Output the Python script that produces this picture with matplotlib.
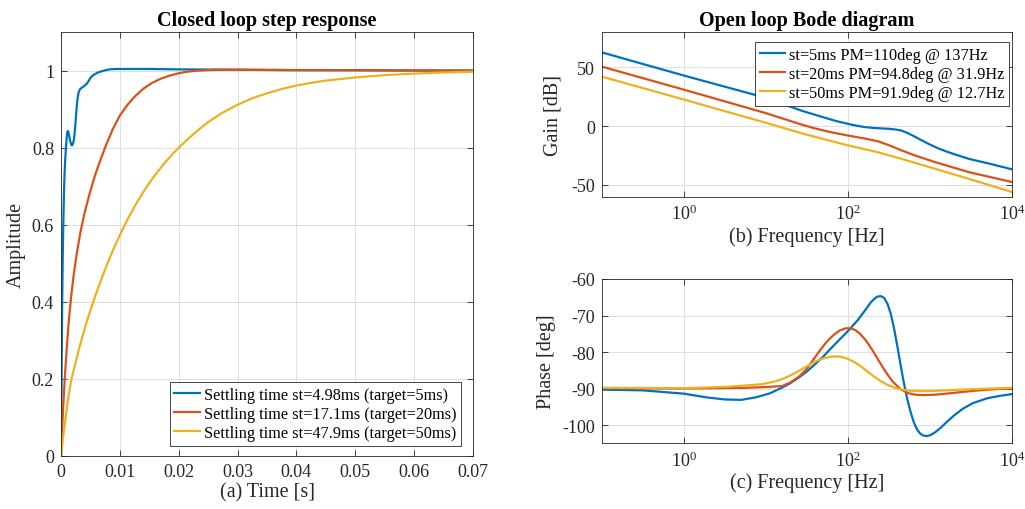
import numpy as np
import matplotlib
matplotlib.use("Agg")
import matplotlib.pyplot as plt
from matplotlib.ticker import FixedLocator, NullLocator, LogFormatterSciNotation

# ---------------- data ----------------
labels_step = ["Settling time st=4.98ms (target=5ms)",
               "Settling time st=17.1ms (target=20ms)",
               "Settling time st=47.9ms (target=50ms)"]
labels_bode = ["st=5ms PM=110deg @ 137Hz",
               "st=20ms PM=94.8deg @ 31.9Hz",
               "st=50ms PM=91.9deg @ 12.7Hz"]

t_blue = [0, 0.0001, 0.0002, 0.0003, 0.0004, 0.0005, 0.0006, 0.0007, 0.0008, 0.0009, 0.001,
          0.00107, 0.00115, 0.0013, 0.0015, 0.0017, 0.0018, 0.0019, 0.002, 0.0021, 0.0022,
          0.0023, 0.0024, 0.0025, 0.0026, 0.0027, 0.0028, 0.003, 0.0032, 0.0035, 0.0038,
          0.0041, 0.0044, 0.0047, 0.005, 0.0054, 0.0058, 0.0063, 0.0069, 0.0076, 0.0083,
          0.0092, 0.01, 0.015, 0.02, 0.03, 0.04, 0.05, 0.06, 0.07]
a_blue = [0, 0.2, 0.4, 0.52, 0.61, 0.68, 0.73, 0.765, 0.79, 0.812, 0.83,
          0.84, 0.843, 0.838, 0.822, 0.809, 0.806, 0.806, 0.809, 0.814, 0.822,
          0.835, 0.852, 0.872, 0.893, 0.911, 0.926, 0.943, 0.951, 0.955, 0.958,
          0.962, 0.966, 0.973, 0.981, 0.987, 0.991, 0.995, 0.998, 1.001, 1.003,
          1.004, 1.004, 1.004, 1.003, 1.002, 1.001, 1.001, 1.0, 1.0]

t_red = [0, 0.0002, 0.0004, 0.0007, 0.001, 0.0013, 0.0017, 0.0022, 0.0027, 0.0033,
         0.004, 0.0048, 0.0057, 0.0067, 0.0077, 0.0088, 0.01, 0.0112, 0.0125, 0.014,
         0.0155, 0.017, 0.0185, 0.02, 0.0215, 0.0231, 0.025, 0.0275, 0.03, 0.04, 0.05, 0.07]
a_red = [0, 0.07, 0.135, 0.215, 0.285, 0.345, 0.41, 0.475, 0.527, 0.58,
         0.63, 0.677, 0.724, 0.768, 0.808, 0.848, 0.883, 0.909, 0.932, 0.953,
         0.968, 0.979, 0.987, 0.993, 0.997, 0.9995, 1.001, 1.002, 1.002, 1.001, 1.0005, 1.0]

t_yel = [0, 0.0003, 0.0006, 0.0009, 0.0012, 0.0015, 0.0018, 0.0024, 0.003, 0.0037,
         0.00435, 0.005, 0.0055, 0.0065, 0.0075, 0.0087, 0.01, 0.0115, 0.013, 0.0145,
         0.016, 0.0175, 0.019, 0.0205, 0.022, 0.0235, 0.025, 0.0275, 0.03, 0.0325,
         0.035, 0.0375, 0.04, 0.0425, 0.045, 0.0475, 0.05, 0.055, 0.06, 0.065, 0.07]
a_yel = [0, 0.04, 0.078, 0.113, 0.146, 0.175, 0.2, 0.237, 0.274, 0.313,
         0.347, 0.377, 0.4, 0.444, 0.484, 0.529, 0.573, 0.619, 0.66, 0.697,
         0.729, 0.758, 0.784, 0.807, 0.828, 0.848, 0.866, 0.891, 0.911, 0.928,
         0.941, 0.952, 0.961, 0.968, 0.974, 0.978, 0.982, 0.988, 0.992, 0.995, 0.997]

# Bode gain: log10(frequency) and dB
lf_gain_blue = [-1, 0, 1, 1.43, 1.7, 1.85, 2.0, 2.1, 2.2, 2.3, 2.4, 2.5, 2.58, 2.65, 2.72,
                2.8, 2.9, 3.0, 3.1, 3.2, 3.3, 3.47, 3.75, 4]
g_blue = [62.7, 43, 24, 13.2, 7.5, 4.4, 1.9, 0.4, -0.8, -1.5, -1.9, -2.3, -2.9, -3.8, -5.7,
          -8.5, -12.2, -15.8, -19.0, -21.6, -24.0, -27.8, -32.4, -36.8]
lf_gain_red = [-1, 0, 1, 1.43, 1.6, 1.8, 2.0, 2.2, 2.37, 2.5, 2.65, 2.8, 3.06, 3.47, 4]
g_red = [50.6, 31, 11, 1.4, -2.0, -5.3, -8.0, -10.5, -13.0, -16.3, -20.6, -24.6, -30.6, -39.1, -47.6]
lf_gain_yel = [-1, 0, 1, 1.43, 1.7, 2.0, 2.2, 2.37, 2.65, 3.06, 3.47, 4]
g_yel = [42.1, 22.6, 2.8, -6.0, -11.0, -16.4, -19.6, -22.3, -27.8, -36.3, -44.8, -56.1]

# Bode phase: log10(frequency) and degrees
lf_ph_blue = [-1, -0.5, 0, 0.27, 0.5, 0.7, 0.88, 1.05, 1.2, 1.3, 1.4, 1.5, 1.6, 1.7, 1.8,
              1.9, 2.01, 2.12, 2.22, 2.27, 2.32, 2.36, 2.4, 2.44, 2.48, 2.52, 2.56, 2.6, 2.64,
              2.68, 2.72, 2.76, 2.8, 2.84, 2.88, 2.92, 2.96, 3.0, 3.06, 3.12, 3.2, 3.3, 3.4,
              3.52, 3.69, 3.85, 4]
ph_blue = [-90.3, -90.5, -91.4, -92.4, -93.0, -93.1, -92.4, -91.3, -89.7, -88.5, -87.0, -85.3, -83.3, -81.2, -78.8,
           -76.5, -74.0, -71.2, -68.2, -66.6, -65.4, -64.8, -64.7, -65.2, -66.8, -69.5, -73.5, -78.4, -83.6,
           -88.5, -92.8, -96.3, -99.2, -101.2, -102.4, -102.9, -103.0, -102.8, -102.0, -100.9, -99.2, -97.2, -95.5,
           -94.0, -92.7, -92.0, -91.5]
lf_ph_red = [-1, 0, 0.75, 1.0, 1.2, 1.3, 1.415, 1.5, 1.58, 1.66, 1.74, 1.82, 1.9, 1.97, 2.03,
             2.09, 2.15, 2.22, 2.3, 2.38, 2.46, 2.54, 2.63, 2.72, 2.82, 2.92, 3.05, 3.24, 3.45,
             3.65, 3.85, 4]
ph_red = [-89.9, -90.0, -89.8, -89.6, -89.3, -88.3, -86.5, -84.5, -82.0, -79.5, -77.2, -75.4, -74.1, -73.5, -73.5,
          -74.0, -75.1, -76.9, -79.6, -82.6, -85.5, -88.0, -90.0, -91.2, -91.7, -91.8, -91.7, -91.3, -90.8,
          -90.4, -90.1, -90.0]
lf_ph_yel = [-1, 0, 0.55, 0.96, 1.1, 1.2, 1.3, 1.415, 1.52, 1.62, 1.72, 1.8, 1.86, 1.93, 2.0,
             2.08, 2.16, 2.24, 2.32, 2.4, 2.48, 2.56, 2.63, 2.75, 2.96, 3.2, 3.5, 4]
ph_yel = [-89.8, -89.9, -89.5, -88.8, -88.1, -87.4, -86.4, -85.0, -83.6, -82.4, -81.6, -81.25, -81.2, -81.4, -81.9,
          -82.8, -84.0, -85.4, -86.8, -88.0, -89.0, -89.7, -90.2, -90.6, -90.7, -90.5, -90.2, -89.8]

colors = ["#0072BD", "#D95319", "#EDB120"]

# ---------------- style ----------------
plt.rcParams["font.family"] = ["Liberation Serif", "DejaVu Serif"]
plt.rcParams["mathtext.fontset"] = "custom"
plt.rcParams["mathtext.rm"] = "Liberation Serif"
plt.rcParams["mathtext.it"] = "Liberation Serif:italic"
plt.rcParams["axes.unicode_minus"] = False

TXT = "#262626"
GRID = "#dedede"
TICK_FS = 13
LAB_FS = 14.5
LEG_FS = 11.7
LW = 1.6

fig = plt.figure(figsize=(10.25, 5.10), dpi=100)
W, H = 1025.0, 510.0

def add_axes(x0, y0, x1, y1):
    return fig.add_axes([x0 / W, 1 - y1 / H, (x1 - x0) / W, (y1 - y0) / H])

ax1 = add_axes(61, 33, 473, 456.7)
ax2 = add_axes(601.7, 33, 1012.3, 197.7)
ax3 = add_axes(601.7, 280, 1012.3, 444.3)

def style(ax):
    for s in ax.spines.values():
        s.set_color(TXT)
        s.set_linewidth(0.6)
    ax.tick_params(axis="both", which="both", direction="in", top=True, right=True,
                   length=4, width=0.6, color=TXT, labelcolor=TXT, labelsize=TICK_FS, pad=5)
    ax.grid(True, color=GRID, linewidth=0.7)
    ax.set_axisbelow(True)

# ---- step response ----
style(ax1)
for t, a, c, lab in zip([t_blue, t_red, t_yel], [a_blue, a_red, a_yel], colors, labels_step):
    ax1.plot(t, a, color=c, lw=LW, label=lab, solid_joinstyle="round")
ax1.set_xlim(0, 0.07)
ax1.set_ylim(0, 1.1)
ax1.set_xticks([0, 0.01, 0.02, 0.03, 0.04, 0.05, 0.06, 0.07])
ax1.set_xticklabels(["0", "0.01", "0.02", "0.03", "0.04", "0.05", "0.06", "0.07"])
ax1.set_yticks([0, 0.2, 0.4, 0.6, 0.8, 1.0])
ax1.set_yticklabels(["0", "0.2", "0.4", "0.6", "0.8", "1"])
ax1.set_xlabel("(a) Time [s]", fontsize=LAB_FS, color=TXT, labelpad=2)
ax1.set_ylabel("Amplitude", fontsize=LAB_FS, color=TXT, labelpad=4)
ax1.set_title("Closed loop step response", fontsize=LAB_FS, fontweight="bold", pad=5)
leg1 = ax1.legend(loc="lower right", bbox_to_anchor=(0.971, 0.0236), borderaxespad=0,
                  fontsize=LEG_FS, handlelength=1.55, handletextpad=0.25, labelspacing=0.18,
                  borderpad=0.3, fancybox=False, framealpha=1, edgecolor=TXT)
leg1.get_frame().set_linewidth(0.6)

# ---- bode gain ----
style(ax2)
for lf, g, c, lab in zip([lf_gain_blue, lf_gain_red, lf_gain_yel], [g_blue, g_red, g_yel], colors, labels_bode):
    ax2.semilogx(10.0 ** np.array(lf), g, color=c, lw=LW, label=lab, solid_joinstyle="round")
ax2.set_xlim(0.1, 1e4)
ax2.set_ylim(-60, 80)
ax2.set_yticks([-50, 0, 50])
ax2.set_xlabel("(b) Frequency [Hz]", fontsize=LAB_FS, color=TXT, labelpad=2)
ax2.set_ylabel("Gain [dB]", fontsize=LAB_FS, color=TXT, labelpad=6)
ax2.set_title("Open loop Bode diagram", fontsize=LAB_FS, fontweight="bold", pad=5)
leg2 = ax2.legend(loc="upper right", bbox_to_anchor=(0.993, 0.939), borderaxespad=0,
                  fontsize=LEG_FS, handlelength=1.55, handletextpad=0.25, labelspacing=0.18,
                  borderpad=0.3, fancybox=False, framealpha=1, edgecolor=TXT)
leg2.get_frame().set_linewidth(0.6)

# ---- bode phase ----
style(ax3)
for lf, p, c in zip([lf_ph_blue, lf_ph_red, lf_ph_yel], [ph_blue, ph_red, ph_yel], colors):
    ax3.semilogx(10.0 ** np.array(lf), p, color=c, lw=LW, solid_joinstyle="round")
ax3.set_xlim(0.1, 1e4)
ax3.set_ylim(-105, -60)
ax3.set_yticks([-100, -90, -80, -70, -60])
ax3.set_xlabel("(c) Frequency [Hz]", fontsize=LAB_FS, color=TXT, labelpad=2)
ax3.set_ylabel("Phase [deg]", fontsize=LAB_FS, color=TXT, labelpad=4)

for ax in (ax2, ax3):
    ax.xaxis.set_major_locator(FixedLocator([1, 100, 1e4]))
    ax.xaxis.set_major_formatter(LogFormatterSciNotation())
    ax.xaxis.set_minor_locator(NullLocator())

fig.savefig("out.png", dpi=100)
